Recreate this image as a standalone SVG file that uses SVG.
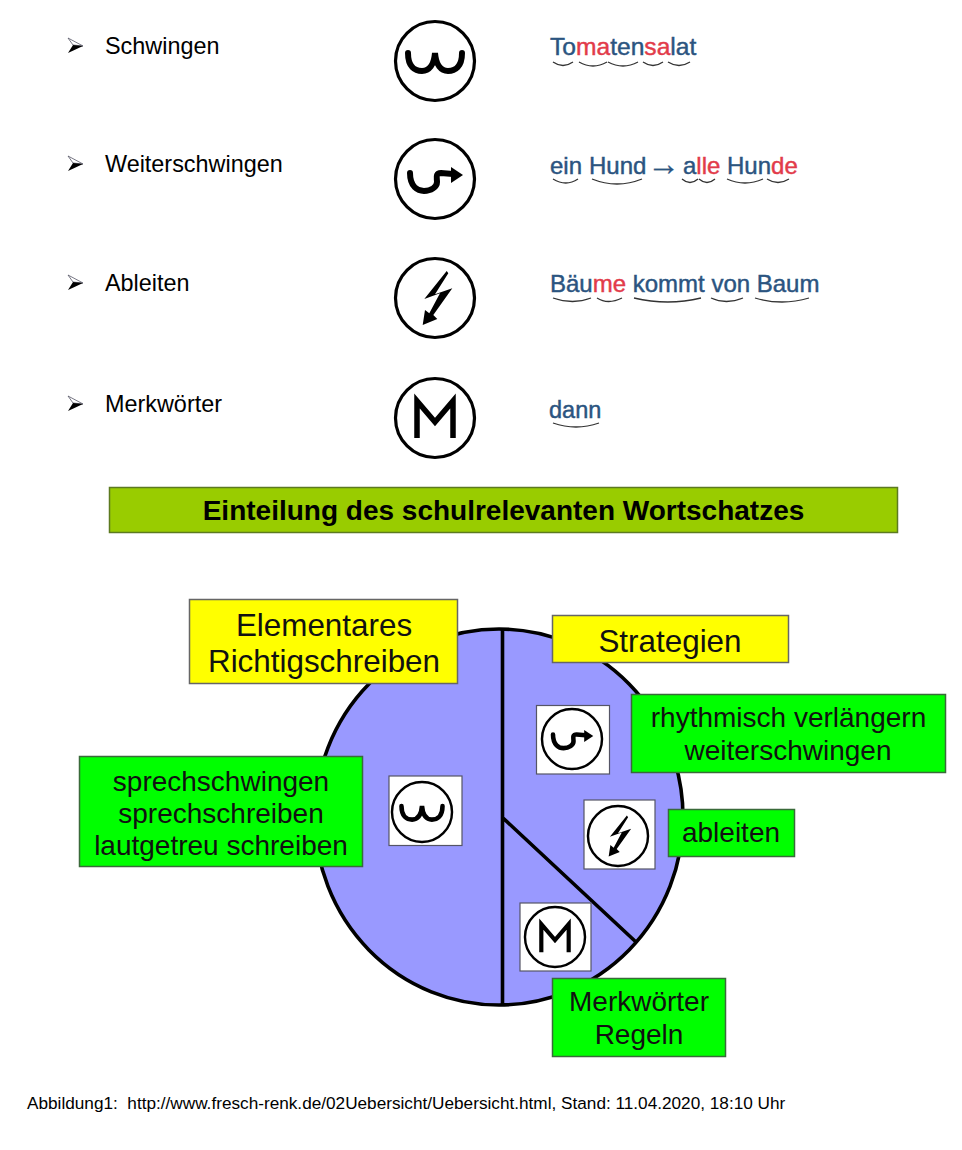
<svg xmlns="http://www.w3.org/2000/svg" width="962" height="1150" viewBox="0 0 962 1150">
<style>
text{font-family:"Liberation Sans",Arial,sans-serif;fill:#000}
.li{font-size:23.4px}
.ex{font-size:24px;fill:#2b5480;stroke:#2b5480;stroke-width:.45}
.r{fill:#e23b4a;stroke:#e23b4a}
.lab{font-size:28px;text-anchor:middle;fill:#111}
.big{font-size:31.4px}
.y{fill:#ff0;stroke:#666;stroke-width:1.5}
.g{fill:#0f0;stroke:#3a6a3a;stroke-width:1.5}
.arc{fill:none;stroke:#333;stroke-width:1.3}
.ring{fill:#fff;stroke:#000;stroke-width:3.2}
.sq{fill:#fff;stroke:#556;stroke-width:1.2}
.sym{fill:none;stroke:#000;stroke-width:6;stroke-linecap:round}
.pie{fill:none;stroke:#000;stroke-width:3.6}
</style>
<defs>
<g id="sW"><circle class="ring" r="39.5"/><path class="sym" d="M-27,-8C-27,6 -20,10 -13,10C-6,10 -1,4 0,-8C1,4 6,10 13,10C20,10 27,6 27,-8"/></g>
<g id="sV"><circle class="ring" r="39.5"/><path class="sym" d="M-25,-6C-25,8 -17,12 -11,12C-4,12 2,8 2,3C2,-1 0,-6 6,-6L18,-5"/><path d="M16,-12L28,-4L16,4Z"/></g>
<g id="sA"><circle class="ring" r="39.5"/><path d="M11.700,-27L-10.700,1L5,-4.700L-5.700,15.300L-10,12L-12.300,27L2.300,21L-1.700,17L17.300,-9.700L0,-3.700L13.300,-24.700Z"/></g>
<g id="sM"><circle class="ring" r="39.5"/><path d="M-18,20V-17L0,4L18,-17V20" fill="none" stroke="#000" stroke-width="5.500"/></g>
<g id="bul"><path d="M0,0L15,8L5,7Z" fill="#fff" stroke="#556" stroke-width=".8"/><path d="M15,8L0,15L5,7Z" fill="#000"/></g>
</defs>
<g id="item-schwingen">
<use href="#bul" x="68" y="38"/>
<text class="li" x="105" y="54">Schwingen</text>
<use href="#sW" x="435" y="61"/>
<text class="ex" x="550" y="55" style="font-size:24.6px">To<tspan class="r">ma</tspan>ten<tspan class="r">sa</tspan>lat</text>
<path class="arc" d="M553,62Q563,69 573,62M579,62Q593,70 607,62M608,62Q623,70 638,62M643,62Q653,69 663,62M668,62Q679,69 690,62"/>
</g>
<g id="item-weiterschwingen">
<use href="#bul" x="68" y="156"/>
<text class="li" x="105" y="172">Weiterschwingen</text>
<use href="#sV" x="435" y="179"/>
<text class="ex" x="550" y="174">ein</text>
<text class="ex" x="589" y="174">Hund</text>
<text class="ex" x="647" y="175" style="font-size:33px;stroke-width:.2">→</text>
<text class="ex" x="683" y="174">a<tspan class="r">lle</tspan></text>
<text class="ex" x="727" y="174">Hun<tspan class="r">de</tspan></text>
<path class="arc" d="M553,179Q566,187 578,179M592,179Q617,189 642,179M682,179Q690,186 698,179M699,179Q707,186 715,179M727,179Q745,187 763,179M767,179Q778,186 789,179"/>
</g>
<g id="item-ableiten">
<use href="#bul" x="68" y="275"/>
<text class="li" x="105" y="291">Ableiten</text>
<use href="#sA" x="435" y="298"/>
<text class="ex" x="550" y="292">Bäu<tspan class="r">me</tspan> kommt von Baum</text>
<path class="arc" d="M553,298Q573,305 591,298M597,298Q608,305 622,298M634,298Q668,306 701,298M711,298Q726,305 743,298M755,298Q782,306 809,298"/>
</g>
<g id="item-merkwoerter">
<use href="#bul" x="68" y="396"/>
<text class="li" x="105" y="412">Merkwörter</text>
<use href="#sM" x="435" y="418"/>
<text class="ex" x="549" y="418" style="font-size:23.500px">dann</text>
<path class="arc" d="M553,423Q576,431 599,423"/>
</g>
<g id="banner">
<rect x="109.500" y="487.500" width="788" height="45" fill="#9c0" stroke="#5c7a20" stroke-width="1.500"/>
<text x="503.500" y="520" font-size="28" font-weight="700" text-anchor="middle" fill="#111">Einteilung des schulrelevanten Wortschatzes</text>
</g>
<g id="pie">
<ellipse cx="499" cy="817" rx="184" ry="188" fill="#99f"/>
<ellipse class="pie" cx="499" cy="817" rx="184" ry="188"/>
<path class="pie" d="M502.500,629V1005M503,818L636,942"/>
</g>
<g id="icon-w"><rect class="sq" x="389" y="776" width="73" height="69.500"/><use href="#sW" transform="translate(422 812) scale(.76)"/></g>
<g id="icon-v"><rect class="sq" x="536.500" y="705.500" width="73" height="68.500"/><use href="#sV" transform="translate(572 739) scale(.76)"/></g>
<g id="icon-a"><rect class="sq" x="584" y="800" width="71" height="69"/><use href="#sA" transform="translate(618 836) scale(.76)"/></g>
<g id="icon-m"><rect class="sq" x="520" y="903" width="71" height="68"/><use href="#sM" transform="translate(555 937) scale(.76)"/></g>
<g id="box-elementar"><rect class="y" x="189.500" y="599.500" width="268" height="84"/><text class="lab big" x="324" y="636">Elementares</text><text class="lab big" x="324" y="672">Richtigschreiben</text></g>
<g id="box-strategien"><rect class="y" x="552.500" y="615.500" width="236" height="47"/><text class="lab big" x="670" y="652">Strategien</text></g>
<g id="box-rhythmisch"><rect class="g" x="631.500" y="694.500" width="314" height="78"/><text class="lab" x="788.500" y="727">rhythmisch verlängern</text><text class="lab" x="788" y="760">weiterschwingen</text></g>
<g id="box-ableiten"><rect class="g" x="668.500" y="809.500" width="126" height="47"/><text class="lab" x="731" y="842">ableiten</text></g>
<g id="box-sprech"><rect class="g" x="79.500" y="756.500" width="283" height="110"/><text class="lab" x="221" y="791">sprechschwingen</text><text class="lab" x="221" y="823">sprechschreiben</text><text class="lab" x="221" y="855">lautgetreu schreiben</text></g>
<g id="box-merk"><rect class="g" x="552.500" y="978.500" width="173" height="78"/><text class="lab" x="639" y="1011">Merkwörter</text><text class="lab" x="639" y="1044">Regeln</text></g>
<text x="27" y="1109" font-size="17.200" fill="#111">Abbildung1: &#160;http://www.fresch-renk.de/02Uebersicht/Uebersicht.html, Stand: 11.04.2020, 18:10 Uhr</text>
</svg>
